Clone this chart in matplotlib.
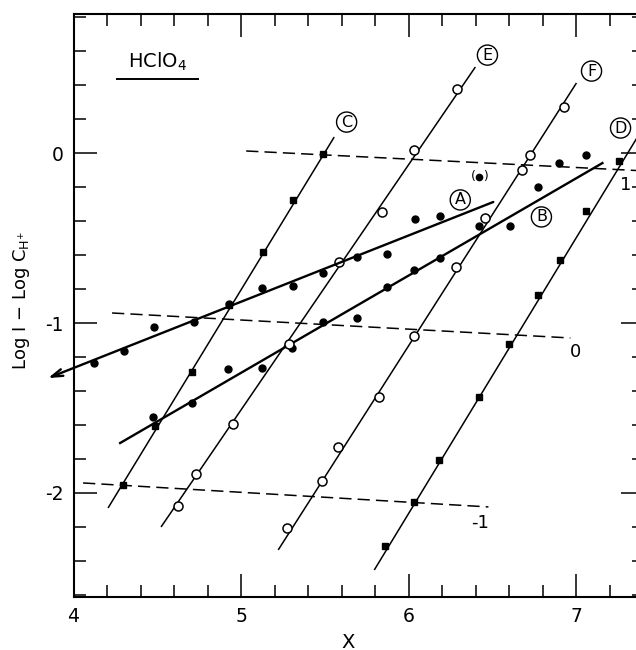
import matplotlib
matplotlib.use("Agg")
import matplotlib.pyplot as plt
from matplotlib.ticker import MultipleLocator

plt.rcParams['axes.unicode_minus'] = False
plt.rcParams['font.family'] = 'DejaVu Sans'

# measured points, one pair of arrays per run
a_x = [4.122, 4.301, 4.481, 4.719, 4.928, 5.125, 5.310, 5.490, 5.693, 5.872, 6.039, 6.188]
a_y = [-1.235, -1.165, -1.024, -0.994, -0.888, -0.794, -0.782, -0.706, -0.612, -0.594, -0.388, -0.371]

b_x = [4.475, 4.707, 4.922, 5.125, 5.304, 5.490, 5.693, 5.872, 6.033, 6.188, 6.421, 6.606, 6.773, 6.893, 7.054]
b_y = [-1.553, -1.471, -1.271, -1.265, -1.147, -0.994, -0.971, -0.788, -0.688, -0.618, -0.429, -0.429, -0.200, -0.059, -0.012]

# bracketed point, left out of the fit
odd_x = [6.421]
odd_y = [-0.141]

c_x = [4.296, 4.487, 4.707, 4.928, 5.131, 5.310, 5.490]
c_y = [-1.953, -1.606, -1.288, -0.894, -0.582, -0.276, -0.006]

d_x = [5.860, 6.033, 6.182, 6.421, 6.600, 6.773, 6.899, 7.054, 7.251]
d_y = [-2.312, -2.053, -1.806, -1.435, -1.124, -0.835, -0.629, -0.341, -0.047]

e_x = [4.624, 4.731, 4.952, 5.287, 5.585, 5.842, 6.033, 6.290]
e_y = [-2.076, -1.888, -1.594, -1.124, -0.641, -0.347, 0.018, 0.376]

f_x = [5.276, 5.484, 5.579, 5.824, 6.033, 6.284, 6.457, 6.678, 6.725, 6.928]
f_y = [-2.206, -1.929, -1.729, -1.435, -1.076, -0.671, -0.382, -0.100, -0.012, 0.271]

# fitted lines (end points)
fit_a_x = [6.504, 3.848]
fit_a_y = [-0.288, -1.324]
fit_b_x = [4.278, 7.155]
fit_b_y = [-1.706, -0.059]
fit_c_x = [4.206, 5.555]
fit_c_y = [-2.088, 0.094]
fit_d_x = [5.794, 7.38]
fit_d_y = [-2.453, 0.12]
fit_e_x = [4.522, 6.397]
fit_e_y = [-2.200, 0.506]
fit_f_x = [5.221, 7.000]
fit_f_y = [-2.335, 0.412]

# dashed reference lines labelled 1, 0, -1
ref_names = ['1', '0', '-1']
ref_x = [[5.03, 7.40], [4.230, 6.964], [4.057, 6.475]]
ref_y = [[0.012, -0.105], [-0.941, -1.088], [-1.941, -2.082]]
ref_label_x = [7.292, 6.994, 6.427]
ref_label_y = [-0.188, -1.171, -2.176]

run_names = ['A', 'B', 'C', 'D', 'E', 'F']
run_label_x = [6.307, 6.791, 5.629, 7.263, 6.469, 7.090]
run_label_y = [-0.276, -0.376, 0.182, 0.147, 0.576, 0.482]

fig = plt.figure(figsize=(6.36, 6.5), dpi=100)
ax = fig.add_axes([0.1156, 0.0815, 0.8962, 0.897])
ax.set_xlim(4, 7.4)
ax.set_ylim(-2.612, 0.818)

# dashed lines
for xs, ys in zip(ref_x, ref_y):
    ax.plot(xs, ys, color='black', lw=1.1, dashes=(8, 4))
for name, lx, ly in zip(ref_names, ref_label_x, ref_label_y):
    ax.text(lx, ly, name, fontsize=13, ha='center', va='center')

# fit lines
for xs, ys in [(fit_c_x, fit_c_y), (fit_d_x, fit_d_y), (fit_e_x, fit_e_y), (fit_f_x, fit_f_y)]:
    ax.plot(xs, ys, color='black', lw=1.1, solid_capstyle='butt')
ax.plot(fit_b_x, fit_b_y, color='black', lw=1.7)
ax.annotate('', xy=(fit_a_x[1], fit_a_y[1]), xytext=(fit_a_x[0], fit_a_y[0]),
            arrowprops=dict(arrowstyle='->,head_length=0.8,head_width=0.25',
                            lw=1.7, color='black', shrinkA=0, shrinkB=0),
            annotation_clip=False)

# data points
ax.plot(a_x, a_y, 'o', color='black', ms=5)
ax.plot(b_x, b_y, 'o', color='black', ms=5)
ax.plot(odd_x, odd_y, 'o', color='black', ms=4.5)
ax.text(odd_x[0], odd_y[0], '(  )', fontsize=9, ha='center', va='center')
ax.plot(c_x, c_y, 's', color='black', ms=5)
ax.plot(d_x, d_y, 's', color='black', ms=5)
ax.plot(e_x, e_y, 'o', mfc='white', mec='black', mew=1.1, ms=6.5)
ax.plot(f_x, f_y, 'o', mfc='white', mec='black', mew=1.1, ms=6.5)

# circled run letters
for name, lx, ly in zip(run_names, run_label_x, run_label_y):
    ax.text(lx, ly, name, fontsize=11.5, ha='center', va='center',
            bbox=dict(boxstyle='circle,pad=0.16', fc='none', ec='black', lw=1.0))

ax.text(4.499, 0.535, r'HClO$_4$', fontsize=14, ha='center', va='center')
ax.plot([4.26, 4.745], [0.435, 0.435], color='black', lw=1.4)

ax.xaxis.set_major_locator(MultipleLocator(1))
ax.xaxis.set_minor_locator(MultipleLocator(0.2))
ax.yaxis.set_major_locator(MultipleLocator(1))
ax.yaxis.set_minor_locator(MultipleLocator(0.2))
ax.tick_params(which='both', direction='in', top=True, right=True, width=1.1)
ax.tick_params(which='major', length=16.5, labelsize=13.5, pad=7)
ax.tick_params(which='minor', length=8.5)
for sp in ax.spines.values():
    sp.set_linewidth(1.5)

fig.text(348 / 636, 1 - 642 / 650, 'X', fontsize=14, ha='center', va='center')
fig.text(22 / 636, 1 - 300 / 650, r'Log I $-$ Log C$_{\mathrm{H}^{+}}$', fontsize=13,
         rotation=90, ha='center', va='center')

fig.savefig('out.png', dpi=100)
